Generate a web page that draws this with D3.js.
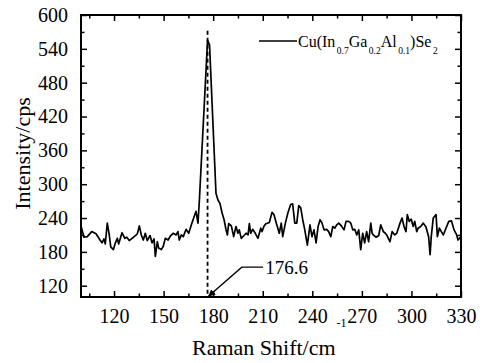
<!DOCTYPE html>
<html>
<head>
<meta charset="utf-8">
<script src="https://cdn.jsdelivr.net/npm/d3@7"></script>
<style>
    body { margin: 0; background: #fff; }
</style>
</head>
<body>
<div id="raman-chart"></div>
<script>
// Raman spectrum of Cu(In0.7Ga0.2Al0.1)Se2 thin film

const ramanShift = [
    100, 101.8, 103.8, 106.5, 109.1, 111.5, 112.7, 113.9, 114.7, 115.9,
    117.1, 118.0, 119.6, 120.8, 122.0, 122.8, 124.8, 126.5, 127.7, 129.2,
    130.9, 132.9, 134.1, 135.3, 136.5, 137.7, 138.9, 140.1, 141.8, 143.0,
    144.2, 145.0, 146.2, 147.0, 148.6, 149.8, 151.0, 152.7, 154.3, 155.9,
    157.5, 158.7, 159.5, 160.7, 161.9, 163.6, 165.2, 166.8, 168.4, 169.6,
    170.8, 171.6, 176.6, 177.8, 181.7, 182.9, 184.1, 185.4, 186.6, 187.8,
    188.6, 189.4, 191.0, 192.4, 193.8, 195.0, 195.8, 197.0, 198.7, 199.9,
    201.1, 201.9, 202.7, 203.9, 205.1, 207.1, 208.8, 209.6, 210.8, 212.0,
    214.0, 215.6, 216.8, 218.5, 220.0, 221.2, 222.1, 223.7, 225.3, 226.9,
    228.1, 229.4, 230.6, 231.8, 233.0, 234.2, 235.4, 237.0, 238.6, 239.8,
    241.0, 242.3, 243.5, 244.7, 245.9, 247.1, 248.7, 249.9, 251.2, 252.4,
    253.6, 254.8, 256.0, 257.6, 259.2, 260.4, 262.0, 263.3, 264.5, 265.7,
    266.9, 268.1, 269.3, 270.5, 271.7, 272.9, 274.1, 275.4, 276.2, 276.9,
    278.6, 280.2, 281.4, 283.0, 284.2, 285.0, 287.0, 288.3, 289.9, 291.1,
    293.1, 294.3, 295.5, 296.7, 297.5, 298.7, 299.9, 301.1, 302.0, 303.2,
    304.0, 305.6, 307.2, 308.8, 310.4, 311.3, 312.0, 313.2, 314.9, 315.7,
    316.9, 318.1, 319.3, 320.9, 322.6, 324.2, 325.8, 327.4, 328.2, 330
];

const intensity = [
    226, 206, 207, 216, 212, 201, 196, 203, 194, 231,
    210, 189, 184, 196, 204, 194, 214, 204, 206, 200,
    204, 209, 212, 226, 210, 201, 213, 200, 209, 196,
    203, 172, 198, 187, 184, 190, 204, 201, 209, 213,
    210, 216, 201, 210, 207, 220, 213, 228, 242, 252,
    231, 269, 555, 547, 284, 272, 266, 249, 237, 219,
    210, 230, 226, 207, 225, 213, 219, 204, 209, 213,
    210, 230, 213, 220, 215, 204, 222, 216, 226, 230,
    232, 250, 246, 228, 213, 231, 207, 231, 250, 264,
    265, 231, 231, 262, 258, 237, 220, 192, 228, 207,
    219, 196, 225, 237, 231, 219, 220, 216, 207, 225,
    222, 228, 231, 226, 219, 234, 234, 231, 219, 220,
    210, 219, 184, 213, 196, 216, 198, 231, 213, 210,
    206, 209, 228, 216, 213, 210, 198, 216, 210, 213,
    231, 240, 225, 216, 246, 234, 238, 225, 234, 216,
    222, 225, 231, 224, 207, 175, 207, 240, 246, 207,
    222, 216, 210, 222, 234, 235, 219, 210, 201, 207
];

const xTicks = [120, 150, 180, 210, 240, 270, 300, 330];
const xMinorTicks = [105, 135, 165, 195, 225, 255, 285, 315];
const yTicks = [120, 180, 240, 300, 360, 420, 480, 540, 600];
const yMinorTicks = [150, 210, 270, 330, 390, 450, 510, 570];

const peakPosition = 176.6;
const peakLabel = '176.6';
const seriesLabel = ['Cu(In', '0.7', 'Ga', '0.2', 'Al', '0.1', ')Se', '2'];

const FONT = 'Liberation Serif';

function renderChart() {
    const container = document.getElementById('raman-chart');
    const margin = { top: 15, right: 24, bottom: 66, left: 81 };
    const width = 485 - margin.left - margin.right;
    const height = 363 - margin.top - margin.bottom;

    const svg = d3.select(container)
        .append('svg')
        .attr('width', 485)
        .attr('height', 363)
        .attr('font-family', FONT)
        .append('g')
        .attr('transform', `translate(${margin.left},${margin.top})`);

    const x = d3.scaleLinear().domain([100, 330]).range([0, width]);
    const y = d3.scaleLinear().domain([100, 600]).range([height, 0]);

    // ticks point inward on all four sides
    const styleAxis = g => {
        g.attr('font-family', FONT);
        g.select('.domain').remove();
        g.selectAll('.tick line').attr('stroke', '#000').attr('stroke-width', 1.5);
        g.selectAll('text').attr('font-size', '20px').attr('fill', '#000');
    };

    // bottom
    svg.append('g')
        .attr('transform', `translate(0,${height})`)
        .call(d3.axisBottom(x).tickValues(xTicks).tickSize(-6).tickPadding(12).tickFormat(d3.format('d')))
        .call(styleAxis);
    svg.append('g')
        .attr('transform', `translate(0,${height})`)
        .call(d3.axisBottom(x).tickValues(xMinorTicks).tickSize(-3.5).tickFormat(''))
        .call(styleAxis);
    // top
    svg.append('g')
        .call(d3.axisTop(x).tickValues(xTicks).tickSize(-6).tickFormat(''))
        .call(styleAxis);
    svg.append('g')
        .call(d3.axisTop(x).tickValues(xMinorTicks).tickSize(-3.5).tickFormat(''))
        .call(styleAxis);
    // left
    svg.append('g')
        .call(d3.axisLeft(y).tickValues(yTicks).tickSize(-6).tickPadding(13).tickFormat(d3.format('d')))
        .call(styleAxis);
    svg.append('g')
        .call(d3.axisLeft(y).tickValues(yMinorTicks).tickSize(-3.5).tickFormat(''))
        .call(styleAxis);
    // right
    svg.append('g')
        .attr('transform', `translate(${width},0)`)
        .call(d3.axisRight(y).tickValues(yTicks).tickSize(-6).tickFormat(''))
        .call(styleAxis);
    svg.append('g')
        .attr('transform', `translate(${width},0)`)
        .call(d3.axisRight(y).tickValues(yMinorTicks).tickSize(-3.5).tickFormat(''))
        .call(styleAxis);

    // frame
    svg.append('rect')
        .attr('width', width)
        .attr('height', height)
        .attr('fill', 'none')
        .attr('stroke', '#000')
        .attr('stroke-width', 2);

    // dashed marker at the peak
    svg.append('line')
        .attr('x1', x(peakPosition))
        .attr('x2', x(peakPosition))
        .attr('y1', y(572))
        .attr('y2', y(100))
        .attr('stroke', '#000')
        .attr('stroke-width', 1.8)
        .attr('stroke-dasharray', '4,3');

    // spectrum
    const points = ramanShift.map((d, i) => ({ x: d, y: intensity[i] }));
    svg.append('path')
        .datum(points)
        .attr('fill', 'none')
        .attr('stroke', '#000')
        .attr('stroke-width', 1.7)
        .attr('stroke-linejoin', 'round')
        .attr('d', d3.line().x(d => x(d.x)).y(d => y(d.y)));

    // peak annotation with arrow
    svg.append('defs').append('marker')
        .attr('id', 'arrow')
        .attr('viewBox', '0 0 10 10')
        .attr('refX', 10)
        .attr('refY', 5)
        .attr('markerWidth', 5)
        .attr('markerHeight', 5)
        .attr('orient', 'auto')
        .append('path')
        .attr('d', 'M0,0L10,5L0,10z')
        .attr('fill', '#000');

    svg.append('path')
        .attr('d', `M${x(210.2)},${y(153)}L${x(197.3)},${y(153)}L${x(peakPosition + 0.4)},${y(101)}`)
        .attr('fill', 'none')
        .attr('stroke', '#000')
        .attr('stroke-width', 1.4)
        .attr('marker-end', 'url(#arrow)');

    svg.append('text')
        .attr('x', x(211.5))
        .attr('y', y(141))
        .attr('font-size', '19px')
        .text(peakLabel);

    // legend
    const legend = svg.append('g').attr('transform', `translate(${width - 202},26)`);
    legend.append('line')
        .attr('x1', 0).attr('x2', 38)
        .attr('y1', 0).attr('y2', 0)
        .attr('stroke', '#000')
        .attr('stroke-width', 1.6);
    const legendText = legend.append('text')
        .attr('x', 39)
        .attr('y', 5.5)
        .attr('font-size', '16px');
    seriesLabel.forEach((part, i) => {
        const isSub = i % 2 === 1;
        legendText.append('tspan')
            .attr('font-size', isSub ? '9.5px' : '16px')
            .attr('dy', isSub ? 7 : (i === 0 ? 0 : -7))
            .attr('dx', isSub ? 1.5 : 0)
            .text(part);
    });

    // axis titles
    svg.append('text')
        .attr('transform', `translate(${29.5 - margin.left},${height / 2 - 2.5}) rotate(-90)`)
        .attr('text-anchor', 'middle')
        .attr('font-size', '22px')
        .text('Intensity/cps');

    const xTitle = svg.append('text')
        .attr('x', 111)
        .attr('y', height + 58)
        .attr('font-size', '22px')
        .text('Raman Shift/cm');
    const titleWidth = xTitle.node().getComputedTextLength();
    svg.append('text')
        .attr('x', 111 + titleWidth + 1)
        .attr('y', height + 30)
        .attr('font-size', '12px')
        .text('-1');
}

document.addEventListener('DOMContentLoaded', renderChart);
</script>
</body>
</html>
